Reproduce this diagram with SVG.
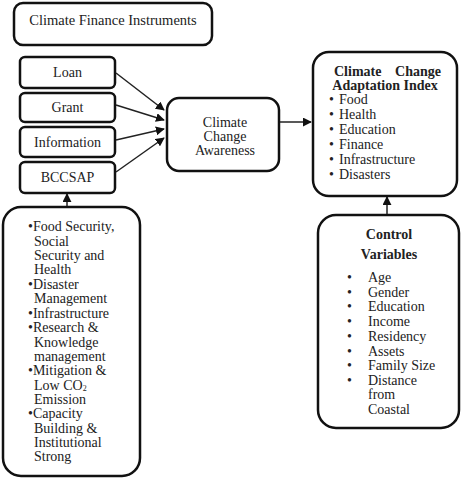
<svg xmlns="http://www.w3.org/2000/svg" width="463" height="480" viewBox="0 0 463 480" font-family="Liberation Serif, Times New Roman, DejaVu Serif, serif">
<defs>
<marker id="ah" viewBox="0 0 10 10" refX="9" refY="5" markerWidth="9" markerHeight="9" markerUnits="userSpaceOnUse" orient="auto">
<path d="M0,0 L10,5 L0,10 z" fill="#111"/>
</marker>
<style>
.box{fill:#fff;stroke:#111;stroke-width:2.5}
.t{font-size:14px;fill:#222}
.c{text-anchor:middle}
.b{font-weight:bold}
.ln{stroke:#222;stroke-width:1.5;fill:none;marker-end:url(#ah)}
</style>
</defs>
<rect width="463" height="480" fill="#fff"/>
<g id="title">
<rect class="box" x="14" y="3" width="198" height="42" rx="9"/>
<text class="t c" x="113" y="25" style="font-size:14.5px">Climate Finance Instruments</text>
</g>
<g id="loan">
<rect class="box" x="20" y="57" width="95" height="31" rx="5"/>
<text class="t c" x="67.5" y="77">Loan</text>
</g>
<g id="grant">
<rect class="box" x="20" y="93" width="95" height="29" rx="5"/>
<text class="t c" x="67.5" y="112">Grant</text>
</g>
<g id="information">
<rect class="box" x="20" y="127" width="95" height="30" rx="5"/>
<text class="t c" x="67.5" y="147">Information</text>
</g>
<g id="bccsap">
<rect class="box" x="20" y="162" width="95" height="31" rx="5"/>
<text class="t c" x="67.5" y="182">BCCSAP</text>
</g>
<g id="awareness">
<rect class="box" x="167" y="98" width="112" height="73" rx="12"/>
<text class="t c" x="225" y="127">Climate</text>
<text class="t c" x="225" y="141">Change</text>
<text class="t c" x="225" y="155">Awareness</text>
</g>
<g id="adaptation">
<rect class="box" x="313" y="52" width="144" height="144" rx="16"/>
<text class="t b" x="334" y="76">Climate</text>
<text class="t b" x="441" y="76" text-anchor="end">Change</text>
<text class="t b c" x="385" y="90">Adaptation Index</text>
<text class="t" x="329" y="104">•</text><text class="t" x="339" y="104">Food</text>
<text class="t" x="329" y="119">•</text><text class="t" x="339" y="119">Health</text>
<text class="t" x="329" y="134">•</text><text class="t" x="339" y="134">Education</text>
<text class="t" x="329" y="149">•</text><text class="t" x="339" y="149">Finance</text>
<text class="t" x="329" y="164">•</text><text class="t" x="339" y="164">Infrastructure</text>
<text class="t" x="329" y="179">•</text><text class="t" x="339" y="179">Disasters</text>
</g>
<g id="strategy">
<rect class="box" x="3" y="207" width="137" height="269" rx="18"/>
<text class="t" x="28" y="231">•Food Security,</text>
<text class="t" x="34" y="246">Social</text>
<text class="t" x="34" y="260">Security and</text>
<text class="t" x="34" y="274">Health</text>
<text class="t" x="28" y="289">•Disaster</text>
<text class="t" x="34" y="303">Management</text>
<text class="t" x="28" y="318">•Infrastructure</text>
<text class="t" x="28" y="332">•Research &amp;</text>
<text class="t" x="34" y="347">Knowledge</text>
<text class="t" x="34" y="361">management</text>
<text class="t" x="28" y="375">•Mitigation &amp;</text>
<text class="t" x="34" y="390">Low CO<tspan style="font-size:8px" dy="1">2</tspan></text>
<text class="t" x="34" y="404">Emission</text>
<text class="t" x="28" y="418">•Capacity</text>
<text class="t" x="34" y="433">Building &amp;</text>
<text class="t" x="34" y="447">Institutional</text>
<text class="t" x="34" y="461">Strong</text>
</g>
<g id="control">
<rect class="box" x="318" y="215" width="141" height="213" rx="18"/>
<text class="t b c" x="389" y="239">Control</text>
<text class="t b c" x="389" y="259">Variables</text>
<text class="t" x="347" y="282">•</text><text class="t" x="368" y="282">Age</text>
<text class="t" x="347" y="297">•</text><text class="t" x="368" y="297">Gender</text>
<text class="t" x="347" y="311">•</text><text class="t" x="368" y="311">Education</text>
<text class="t" x="347" y="326">•</text><text class="t" x="368" y="326">Income</text>
<text class="t" x="347" y="341">•</text><text class="t" x="368" y="341">Residency</text>
<text class="t" x="347" y="356">•</text><text class="t" x="368" y="356">Assets</text>
<text class="t" x="347" y="370">•</text><text class="t" x="368" y="370">Family Size</text>
<text class="t" x="347" y="385">•</text><text class="t" x="368" y="385">Distance</text>
<text class="t" x="368" y="399">from</text>
<text class="t" x="368" y="414">Coastal</text>
</g>
<g id="connectors">
<line class="ln" x1="116" y1="73" x2="164" y2="110"/>
<line class="ln" x1="116" y1="105" x2="164" y2="120"/>
<line class="ln" x1="116" y1="140" x2="164" y2="129"/>
<line class="ln" x1="116" y1="172" x2="164" y2="138"/>
<line class="ln" x1="280" y1="122" x2="311" y2="122"/>
<line class="ln" x1="67" y1="206" x2="67" y2="194"/>
<line class="ln" x1="387" y1="214" x2="387" y2="197"/>
</g>
</svg>
